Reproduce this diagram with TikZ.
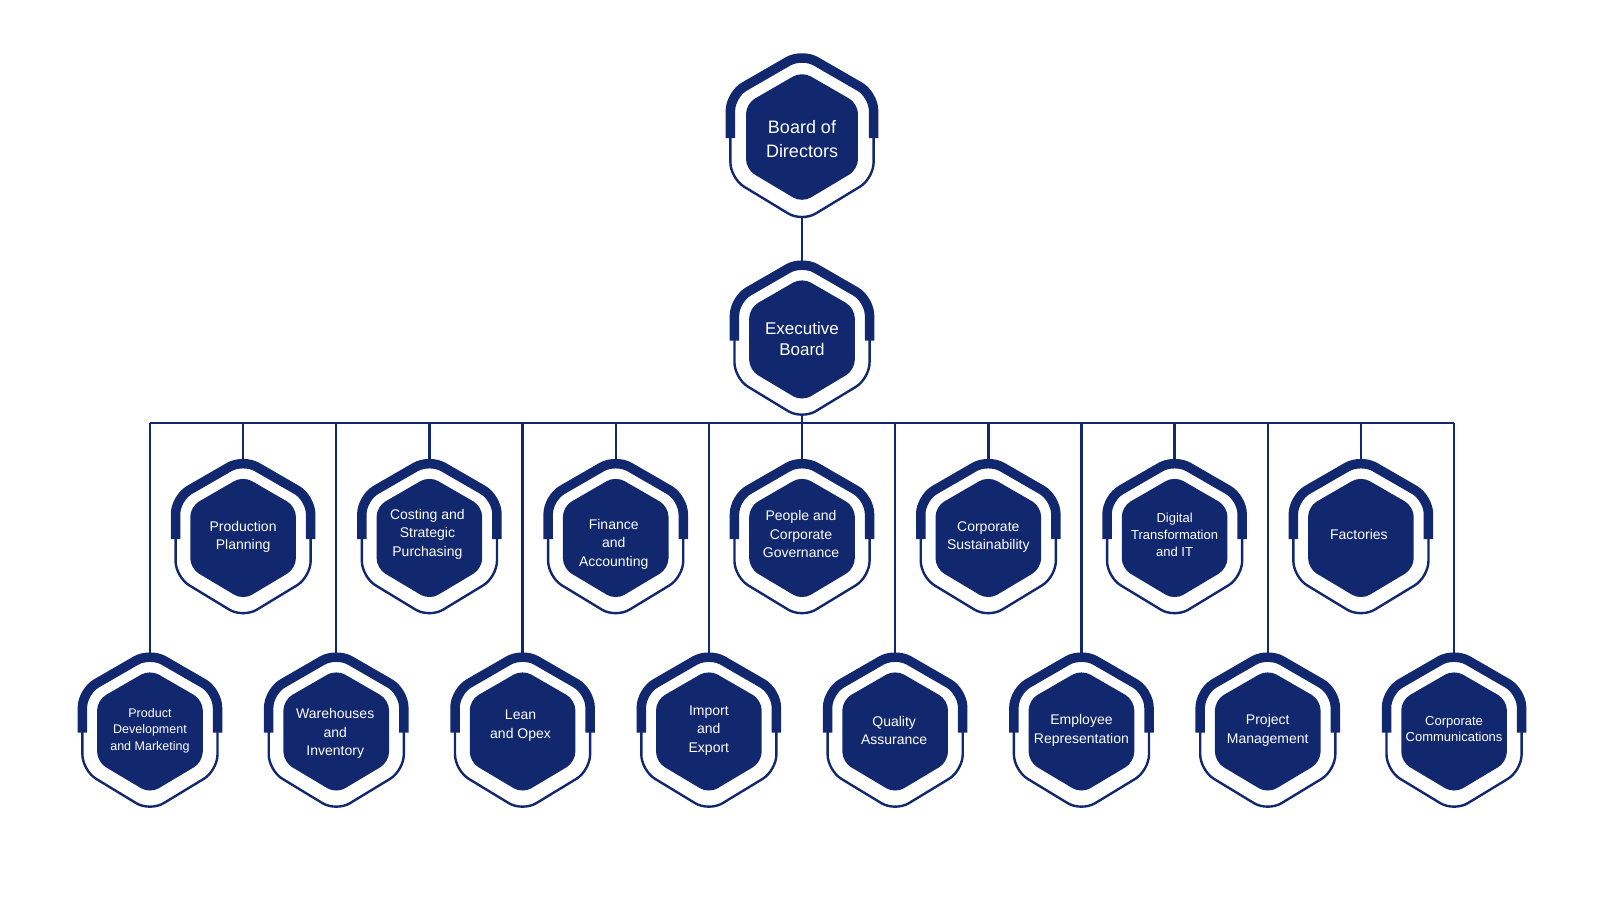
\documentclass[tikz,border=0pt]{standalone}
\usepackage{fontspec}
\setmainfont{Liberation Sans}
\usetikzlibrary{calc}

\definecolor{navy}{RGB}{18,40,110}

% #1 text options, #2 name, #3 x, #4 y, #5 scale, #6 text
\newcommand{\orgunit}[6][]{%
  \begin{scope}[shift={(#3,#4)},scale=#5]
    \draw[ring top] (-67.55,2) -- (-67.55,-39) -- (0,-78) -- (67.55,-39) -- (67.55,2);
    \draw[ring bottom] (-67.55,0) -- (-67.55,40) -- (0,81) -- (67.55,40) -- (67.55,0);
    \fill[core] (-52.8,0) -- (-52.8,-30.5) -- (0,-61) -- (52.8,-30.5)
      -- (52.8,31.5) -- (0,63) -- (-52.8,31.5) -- cycle;
    \coordinate (#2-top) at (0,-74);
    \coordinate (#2-bot) at (0,76);
  \end{scope}
  \node[unit text,#1] (#2) at (#3,#4) {#6};
}

\begin{document}
\begin{tikzpicture}[x=1pt,y=-1pt,
                    ring top/.style={draw=navy,line width=9.5pt,rounded corners=16pt},
                    ring bottom/.style={draw=navy,line width=2.4pt,rounded corners=16pt},
                    core/.style={navy,rounded corners=10pt},
                    unit text/.style={text=white,align=center,inner sep=0pt,
                                      font=\fontsize{14}{18.4}\selectfont},
                    small text/.style={font=\fontsize{13}{16.8}\selectfont},
                    link/.style={draw=navy,line width=2.4pt}]

  \useasboundingbox (0,0) rectangle (1600,900);

  % top of the chart
  \orgunit[font=\fontsize{18}{24.5}\selectfont,yshift=-3pt]{board}{802}{136}{1.06}{Board of\\Directors}
  \orgunit[font=\fontsize{17}{21}\selectfont]{exec}{802}{338.5}{1}{Executive\\Board}

  % upper row
  \orgunit{pp}{243.1}{537}{1}{Production\\Planning}
  \orgunit[yshift=3pt,xshift=-2pt]{csp}{429.4}{537}{1}{Costing and\\Strategic\\Purchasing}
  \orgunit[yshift=-7pt,xshift=-2pt]{fa}{615.7}{537}{1}{Finance\\and\\Accounting}
  \orgunit[yshift=3pt,xshift=-1pt]{pcg}{802}{537}{1}{People and\\Corporate\\Governance}
  \orgunit{cs}{988.3}{537}{1}{Corporate\\Sustainability}
  \orgunit[small text,yshift=2pt]{dt}{1174.6}{537}{1}{Digital\\Transformation\\and IT}
  \orgunit[yshift=3pt,xshift=-2pt]{fac}{1360.9}{537}{1}{Factories}

  % lower row
  \orgunit[font=\fontsize{12.5}{16.3}\selectfont]{pdm}{149.95}{730.5}{1}{Product\\Development\\and Marketing}
  \orgunit[yshift=-3pt,xshift=-1pt]{wi}{336.25}{730.5}{1}{Warehouses\\and\\Inventory}
  \orgunit[yshift=5pt,xshift=-2pt]{lo}{522.55}{730.5}{1}{Lean\\and Opex}
  \orgunit{ie}{708.85}{730.5}{1}{Import\\and\\Export}
  \orgunit[xshift=-1pt]{qa}{895.15}{730.5}{1}{Quality\\Assurance}
  \orgunit{er}{1081.45}{730.5}{1}{Employee\\Representation}
  \orgunit{pm}{1267.75}{730.5}{1}{Project\\Management}
  \orgunit[small text,yshift=1.5pt]{cc}{1454.05}{730.5}{1}{Corporate\\Communications}

  % connectors
  \coordinate (bus) at (802,423);
  \draw[link] (board-bot) -- (exec-top);
  \draw[link] (exec-bot) -- (bus);
  \draw[link] (pdm-top |- bus) -- (cc-top |- bus);
  \foreach \u in {pp,csp,fa,pcg,cs,dt,fac,pdm,wi,lo,ie,qa,er,pm,cc}
    \draw[link] (\u-top) -- (\u-top |- bus);
\end{tikzpicture}
\end{document}
